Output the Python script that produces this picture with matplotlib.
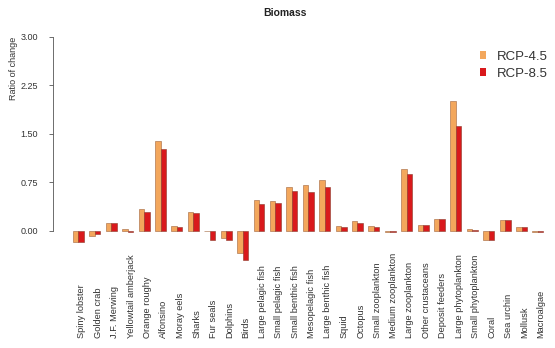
import numpy as np
import matplotlib
matplotlib.use("Agg")
import matplotlib.pyplot as plt
from matplotlib.patches import Patch

plt.rcParams["font.family"] = ["Liberation Sans", "DejaVu Sans"]

# Functional groups and biomass ratio of change under both scenarios
groups = ["Spiny lobster", "Golden crab", "J.F. Merwing", "Yellowtail amberjack",
          "Orange roughy", "Alfonsino", "Moray eels", "Sharks", "Fur seals",
          "Dolphins", "Birds", "Large pelagic fish", "Small pelagic fish",
          "Small benthic fish", "Mesopelagic fish", "Large benthic fish", "Squid",
          "Octopus", "Small zooplankton", "Medium zooplankton", "Large zooplankton",
          "Other crustaceans", "Deposit feeders", "Large phytoplankton",
          "Small phytoplankton", "Coral", "Sea urchin", "Mollusk", "Macroalgae"]

rcp45 = [-0.18, -0.08, 0.11, 0.02, 0.34, 1.39, 0.07, 0.29, -0.01, -0.11,
         -0.35, 0.47, 0.46, 0.68, 0.70, 0.79, 0.07, 0.15, 0.07, -0.02,
         0.95, 0.08, 0.18, 2.01, 0.02, -0.14, 0.16, 0.06, -0.02]
rcp85 = [-0.18, -0.06, 0.11, -0.03, 0.29, 1.27, 0.05, 0.27, -0.14, -0.15,
         -0.46, 0.41, 0.42, 0.61, 0.59, 0.68, 0.06, 0.12, 0.06, -0.03,
         0.87, 0.08, 0.18, 1.62, 0.01, -0.15, 0.16, 0.05, -0.03]

yticks = [0.0, 0.75, 1.5, 2.25, 3.0]

c45 = "#f3a75c"
c85 = "#d9191c"

W, H = 555, 348
fig = plt.figure(figsize=(W / 100, H / 100), dpi=100)
ax = fig.add_axes([53 / W, (H - 265) / H, 502 / W, (265 - 37) / H])

x = np.arange(len(groups))
bw = 1 / 3
ax.bar(x - bw / 2, rcp45, width=bw, color=c45, edgecolor="#a0643a", linewidth=0.4)
ax.bar(x + bw / 2, rcp85, width=bw, color=c85, edgecolor="#8a3a2a", linewidth=0.4)

ax.set_xlim(-1.554, 29.04)
ax.set_ylim(-(265 - 230.5) / 64.6, 3.0)

# R-style axes: only the y axis, spanning the tick range
for s in ["top", "right", "bottom"]:
    ax.spines[s].set_visible(False)
ax.spines["left"].set_bounds(0, 3)
ax.spines["left"].set_color("#555555")
ax.spines["left"].set_linewidth(0.6)
ax.set_xticks([])
ax.set_yticks(yticks)
ax.set_yticklabels(["%.2f" % v for v in yticks])
ax.tick_params(axis="y", length=3, width=0.6, color="#555555", labelsize=6.5,
               labelcolor="#333333", pad=8)

ax.text(-3.95, 3.0, "Ratio of change", rotation=90, ha="center", va="top",
        fontsize=6.5, color="#333333")

# group names, rotated, anchored at the bottom of the figure
trans = matplotlib.transforms.blended_transform_factory(ax.transData, fig.transFigure)
for i, name in enumerate(groups):
    ax.text(i + 0.2, 10 / H, name, rotation=90, ha="center", va="bottom",
            fontsize=6.7, color="#333333", transform=trans)

fig.text(285 / W, 1 - 13 / H, "Biomass", ha="center", va="center",
         fontsize=7.5, fontweight="bold", color="#222222")

handles = [Patch(facecolor=c45, edgecolor="none"), Patch(facecolor=c85, edgecolor="none")]
fig.legend(handles, ["RCP-4.5", "RCP-8.5"], loc="upper right",
           bbox_to_anchor=(554 / W, 1 - 44 / H), frameon=False, fontsize=9.5,
           handlelength=0.45, handleheight=0.6, handletextpad=0.8,
           labelspacing=0.38, borderpad=0, labelcolor="#333333")

fig.savefig("out.png", dpi=100)
